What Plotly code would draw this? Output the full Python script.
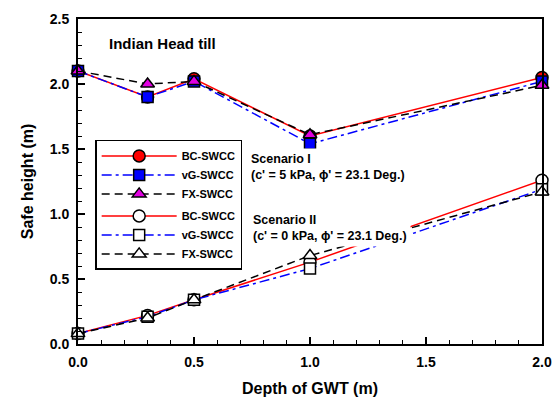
import plotly.graph_objects as go

depth = [0.0, 0.3, 0.5, 1.0, 2.0]

s1_bc = [2.10, 1.90, 2.04, 1.60, 2.05]
s1_vg = [2.10, 1.90, 2.02, 1.54, 2.02]
s1_fx = [2.10, 2.00, 2.02, 1.61, 1.99]

s2_bc = [0.08, 0.22, 0.34, 0.63, 1.26]
s2_vg = [0.08, 0.21, 0.34, 0.58, 1.19]
s2_fx = [0.08, 0.20, 0.34, 0.68, 1.17]

names = ["BC-SWCC", "vG-SWCC", "FX-SWCC"]

FONT = "Liberation Sans, Arial, sans-serif"

fig = go.Figure()

styles = [
    dict(color="red", dash="solid", symbol="circle", fill1="red", size=12),
    dict(color="blue", dash="10px,4px,3px,4px", symbol="square", fill1="blue", size=11),
    dict(color="black", dash="8px,5px", symbol="triangle-up", fill1="#e000e0", size=12),
]

for grp, data, filled in [("I", [s1_bc, s1_vg, s1_fx], True), ("II", [s2_bc, s2_vg, s2_fx], False)]:
    for nm, ys, st in zip(names, data, styles):
        fig.add_trace(go.Scatter(
            x=depth, y=ys, name=nm, legendgroup=grp,
            mode="lines+markers", cliponaxis=False,
            line=dict(color=st["color"], width=1.5, dash=st["dash"]),
            marker=dict(symbol=st["symbol"], size=st["size"],
                        color=st["fill1"] if filled else "white",
                        line=dict(color="black", width=1.5)),
        ))

axis_common = dict(
    showline=True, linecolor="black", linewidth=2, mirror=True,
    ticks="inside", ticklen=7, tickwidth=1.5, tickcolor="black",
    showgrid=False, zeroline=False, tickformat=".1f", automargin=False,
    tickfont=dict(family=FONT, size=14, color="black", weight="bold"),
    minor=dict(ticks="inside", ticklen=4, tickwidth=1.2, tickcolor="black", dtick=0.1),
)

fig.update_xaxes(range=[0, 2.0], dtick=0.5, ticklabelstandoff=4,
                 title=dict(text="Depth of GWT (m)", font=dict(family=FONT, size=16, color="black", weight="bold"), standoff=14),
                 **axis_common)
fig.update_yaxes(range=[0, 2.5], dtick=0.5, ticklabelstandoff=4,
                 title=dict(text="Safe height (m)", font=dict(family=FONT, size=16, color="black", weight="bold"), standoff=12),
                 **axis_common)

fig.add_annotation(x=0.125, y=2.31, xref="x", yref="y", text="Indian Head till", showarrow=False,
                   xanchor="left", yanchor="middle",
                   font=dict(family=FONT, size=15, color="black", weight="bold"))
fig.add_annotation(x=0.728, y=1.36, xref="x", yref="y",
                   text="Scenario I<br>(c' = 5 kPa, ϕ' = 23.1 Deg.)", showarrow=False,
                   xanchor="left", yanchor="middle", align="left", bgcolor="white", borderpad=3,
                   font=dict(family=FONT, size=12.5, color="black", weight="bold"))
fig.add_annotation(x=0.735, y=0.89, xref="x", yref="y",
                   text="Scenario II<br>(c' = 0 kPa, ϕ' = 23.1 Deg.)", showarrow=False,
                   xanchor="left", yanchor="middle", align="left", bgcolor="white", borderpad=3,
                   font=dict(family=FONT, size=12.5, color="black", weight="bold"))

fig.update_layout(
    width=556, height=403,
    margin=dict(l=78, r=14, t=19, b=59),
    paper_bgcolor="white", plot_bgcolor="white",
    showlegend=True,
    legend=dict(x=0.037, y=0.628, xanchor="left", yanchor="top",
                bgcolor="white", bordercolor="black", borderwidth=1.5,
                traceorder="grouped", tracegroupgap=3, itemwidth=75,
                font=dict(family=FONT, size=11, color="black", weight="bold")),
)

fig.write_html("out.html")
